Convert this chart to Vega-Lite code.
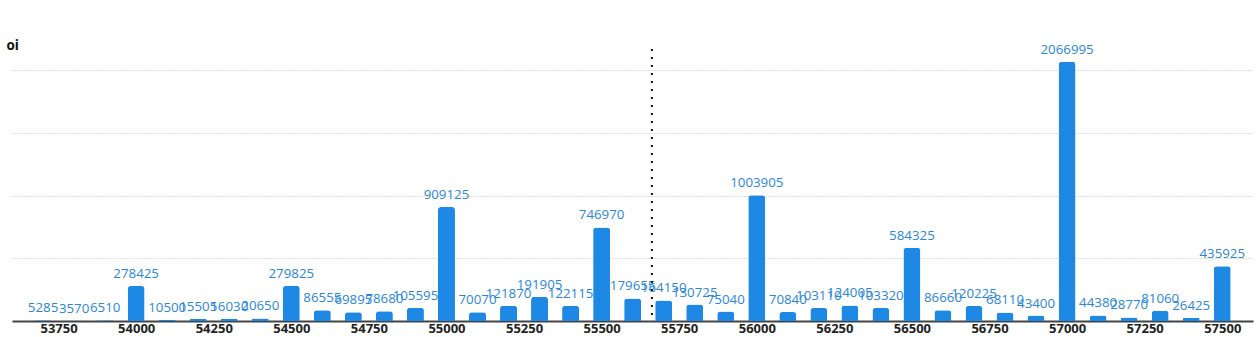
{
  "$schema": "https://vega.github.io/schema/vega-lite/v6.json",
  "autosize": "none",
  "width": 1241,
  "height": 272,
  "padding": {"left": 12, "top": 49, "right": 3, "bottom": 16},
  "background": "white",
  "config": {"view": {"stroke": null}, "font": "Open Sans"},
  "datasets": {
    "oi": [
      {"strike": 53700, "oi": 5285},
      {"strike": 53800, "oi": 3570},
      {"strike": 53900, "oi": 6510},
      {"strike": 54000, "oi": 278425},
      {"strike": 54100, "oi": 10500},
      {"strike": 54200, "oi": 15505},
      {"strike": 54300, "oi": 16030},
      {"strike": 54400, "oi": 20650},
      {"strike": 54500, "oi": 279825},
      {"strike": 54600, "oi": 86555},
      {"strike": 54700, "oi": 69895},
      {"strike": 54800, "oi": 78680},
      {"strike": 54900, "oi": 105595},
      {"strike": 55000, "oi": 909125},
      {"strike": 55100, "oi": 70070},
      {"strike": 55200, "oi": 121870},
      {"strike": 55300, "oi": 191905},
      {"strike": 55400, "oi": 122115},
      {"strike": 55500, "oi": 746970},
      {"strike": 55600, "oi": 179655},
      {"strike": 55700, "oi": 164150},
      {"strike": 55800, "oi": 130725},
      {"strike": 55900, "oi": 75040},
      {"strike": 56000, "oi": 1003905},
      {"strike": 56100, "oi": 70840},
      {"strike": 56200, "oi": 103110},
      {"strike": 56300, "oi": 124005},
      {"strike": 56400, "oi": 103320},
      {"strike": 56500, "oi": 584325},
      {"strike": 56600, "oi": 86660},
      {"strike": 56700, "oi": 120225},
      {"strike": 56800, "oi": 68110},
      {"strike": 56900, "oi": 43400},
      {"strike": 57000, "oi": 2066995},
      {"strike": 57100, "oi": 44380},
      {"strike": 57200, "oi": 28770},
      {"strike": 57300, "oi": 81060},
      {"strike": 57400, "oi": 26425},
      {"strike": 57500, "oi": 435925}
    ],
    "spot": [{"strike": 55662}]
  },
  "layer": [
    {
      "data": {"name": "oi"},
      "mark": {"type": "bar", "width": 17, "color": "#1e88e5", "cornerRadiusTopLeft": 3, "cornerRadiusTopRight": 3},
      "encoding": {
        "x": {
          "field": "strike", "type": "quantitative",
          "scale": {"domain": [53616, 57583], "nice": false, "zero": false},
          "axis": {
            "values": [53750, 54000, 54250, 54500, 54750, 55000, 55250, 55500, 55750, 56000, 56250, 56500, 56750, 57000, 57250, 57500],
            "format": "d", "title": null, "ticks": false, "grid": false,
            "labelFont": "Open Sans", "labelFontSize": 13, "labelFontWeight": "bold", "labelColor": "#222222",
            "labelPadding": 1, "domainColor": "#444444", "domainWidth": 2, "labelOverlap": false
          }
        },
        "y": {
          "field": "oi", "type": "quantitative",
          "scale": {"domain": [0, 2170345], "nice": false},
          "axis": {
            "values": [500000, 1000000, 1500000, 2000000],
            "labels": false, "ticks": false, "domain": false,
            "grid": true, "gridDash": [1, 2], "gridColor": "#bdbdbd", "gridWidth": 1,
            "title": "oi", "titleAngle": 0, "titleAlign": "left", "titleBaseline": "middle",
            "titleX": -6, "titleY": -4, "titleFont": "Open Sans", "titleFontSize": 13.5, "titleFontWeight": "bold", "titleColor": "#111111"
          }
        }
      }
    },
    {
      "data": {"name": "oi"},
      "mark": {"type": "text", "baseline": "alphabetic", "dy": -8, "fontSize": 13.3, "font": "Open Sans", "color": "#2a86d8"},
      "encoding": {
        "x": {"field": "strike", "type": "quantitative"},
        "y": {"field": "oi", "type": "quantitative"},
        "text": {"field": "oi", "type": "quantitative", "format": "d"}
      }
    },
    {
      "data": {"name": "spot"},
      "mark": {"type": "rule", "color": "#111111", "strokeWidth": 2, "strokeDash": [2, 6]},
      "encoding": {
        "x": {"field": "strike", "type": "quantitative"}
      }
    }
  ]
}
